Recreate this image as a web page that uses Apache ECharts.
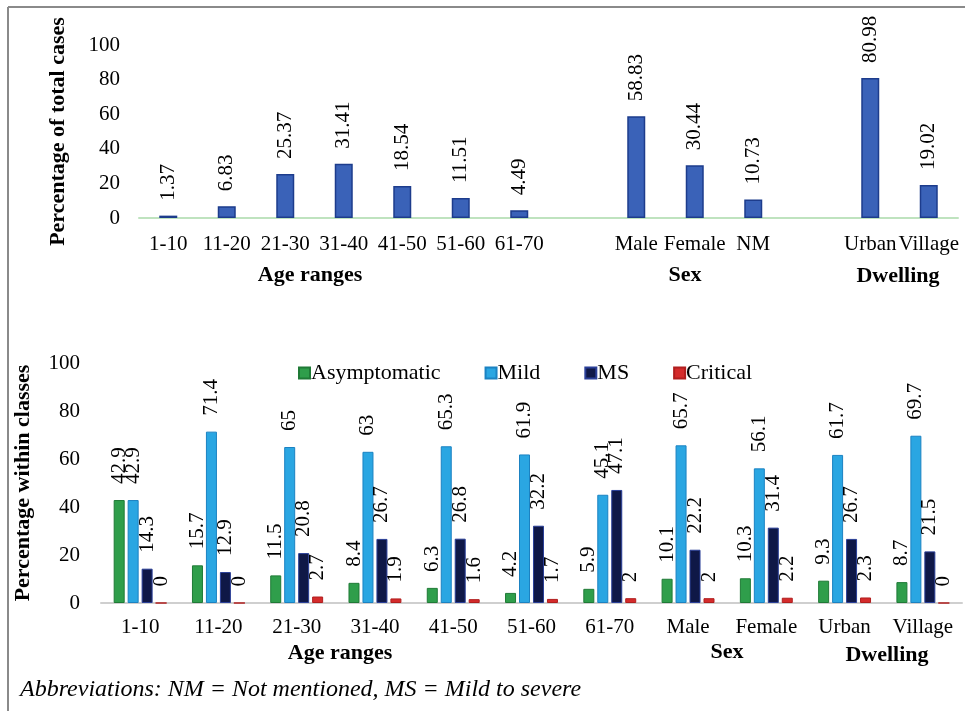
<!DOCTYPE html>
<html>
<head>
<meta charset="utf-8">
<script src="https://cdn.jsdelivr.net/npm/echarts@6/dist/echarts.min.js"></script>
<style>
    html, body { margin: 0; padding: 0; background: #fff; }
    #main { width: 965px; height: 711px; }
</style>
</head>
<body>
<div id="main"></div>
<script>
// upper panel: share of total cases ('' = spacer between groups)
var topCategories = ['1-10', '11-20', '21-30', '31-40', '41-50', '51-60', '61-70', '', 'Male', 'Female', 'NM', '', 'Urban', 'Village'];
var topValues = [1.37, 6.83, 25.37, 31.41, 18.54, 11.51, 4.49, '-', 58.83, 30.44, 10.73, '-', 80.98, 19.02];

// lower panel: severity within each class
var classCategories = ['1-10', '11-20', '21-30', '31-40', '41-50', '51-60', '61-70', 'Male', 'Female', 'Urban', 'Village'];
var asymptomatic = [42.9, 15.7, 11.5, 8.4, 6.3, 4.2, 5.9, 10.1, 10.3, 9.3, 8.7];
var mild = [42.9, 71.4, 65, 63, 65.3, 61.9, 45.1, 65.7, 56.1, 61.7, 69.7];
var ms = [14.3, 12.9, 20.8, 26.7, 26.8, 32.2, 47.1, 22.2, 31.4, 26.7, 21.5];
var critical = [0, 0, 2.7, 1.9, 1.6, 1.7, 2, 2, 2.2, 2.3, 0];

var yTicks = [0, 20, 40, 60, 80, 100];

var serif = 'Liberation Serif';

function barLabel(dist) {
    return {
        show: true,
        position: 'top',
        rotate: 90,
        align: 'left',
        verticalAlign: 'middle',
        distance: dist,
        color: '#000',
        fontFamily: serif,
        fontSize: 21
    };
}

function groupTitle(text, x, y) {
    return {
        type: 'text',
        x: x,
        y: y,
        style: {
            text: text,
            fill: '#000',
            font: 'bold 22px "Liberation Serif"',
            textAlign: 'center',
            textVerticalAlign: 'middle'
        }
    };
}

var myChart = echarts.init(document.getElementById('main'));
var option = {
    backgroundColor: '#fff',
    animation: false,
    textStyle: {
        fontFamily: serif
    },
    legend: {
        data: ['Asymptomatic', 'Mild', 'MS', 'Critical'],
        left: 293,
        top: 357,
        itemWidth: 11,
        itemHeight: 11,
        itemGap: 44,
        icon: 'rect',
        textStyle: {
            fontFamily: serif,
            fontSize: 22,
            color: '#000',
            padding: [0, 0, 0, -4]
        }
    },
    grid: [
        { left: 139, right: 7, top: 45, height: 173 },
        { left: 101, right: 3, top: 363, height: 240 }
    ],
    xAxis: [
        {
            type: 'category',
            gridIndex: 0,
            data: topCategories,
            axisLine: { lineStyle: { color: '#bfe3bf', width: 2 } },
            axisTick: { show: false },
            axisLabel: { interval: 0, margin: 16, color: '#000', fontFamily: serif, fontSize: 21 }
        },
        {
            type: 'category',
            gridIndex: 1,
            data: classCategories,
            axisLine: { lineStyle: { color: '#cfcfcf', width: 2 } },
            axisTick: { show: false },
            axisLabel: { interval: 0, margin: 14, color: '#000', fontFamily: serif, fontSize: 21 }
        }
    ],
    yAxis: [
        {
            type: 'value',
            gridIndex: 0,
            min: yTicks[0],
            max: yTicks[yTicks.length - 1],
            interval: 20,
            name: 'Percentage of total cases',
            nameLocation: 'middle',
            nameGap: 70,
            nameTextStyle: { fontFamily: serif, fontSize: 22, fontWeight: 'bold', color: '#000' },
            axisLine: { show: false },
            axisTick: { show: false },
            splitLine: { show: false },
            axisLabel: { margin: 19, color: '#000', fontFamily: serif, fontSize: 21 }
        },
        {
            type: 'value',
            gridIndex: 1,
            min: yTicks[0],
            max: yTicks[yTicks.length - 1],
            interval: 20,
            name: 'Percentage within classes',
            nameLocation: 'middle',
            nameGap: 67,
            nameTextStyle: { fontFamily: serif, fontSize: 22, fontWeight: 'bold', color: '#000' },
            axisLine: { show: false },
            axisTick: { show: false },
            splitLine: { show: false },
            axisLabel: { margin: 21, color: '#000', fontFamily: serif, fontSize: 21 }
        }
    ],
    series: [
        {
            name: 'Total',
            type: 'bar',
            xAxisIndex: 0,
            yAxisIndex: 0,
            data: topValues,
            barWidth: 18,
            itemStyle: { color: '#3a62b8', borderColor: '#1d3c8c', borderWidth: 1.5 },
            label: barLabel(15)
        },
        {
            name: 'Asymptomatic',
            type: 'bar',
            xAxisIndex: 1,
            yAxisIndex: 1,
            data: asymptomatic,
            barWidth: 11,
            barGap: '27%',
            itemStyle: { color: '#2f9e4b', borderColor: '#1f7a36', borderWidth: 1 },
            label: barLabel(16)
        },
        {
            name: 'Mild',
            type: 'bar',
            xAxisIndex: 1,
            yAxisIndex: 1,
            data: mild,
            barWidth: 11,
            barGap: '27%',
            itemStyle: { color: '#2aa6e2', borderColor: '#1b82c2', borderWidth: 1 },
            label: barLabel(16)
        },
        {
            name: 'MS',
            type: 'bar',
            xAxisIndex: 1,
            yAxisIndex: 1,
            data: ms,
            barWidth: 11,
            barGap: '27%',
            itemStyle: { color: '#0f1847', borderColor: '#2a3f98', borderWidth: 1 },
            label: barLabel(16)
        },
        {
            name: 'Critical',
            type: 'bar',
            xAxisIndex: 1,
            yAxisIndex: 1,
            data: critical,
            barWidth: 11,
            barGap: '27%',
            itemStyle: { color: '#d42b2b', borderColor: '#b01e1e', borderWidth: 1 },
            label: barLabel(16)
        }
    ],
    graphic: [
        // frame of the figure
        { type: 'line', shape: { x1: 8, y1: 7, x2: 965, y2: 7 }, style: { stroke: '#8a8a8a', lineWidth: 2 } },
        { type: 'line', shape: { x1: 8, y1: 7, x2: 8, y2: 711 }, style: { stroke: '#8a8a8a', lineWidth: 2 } },
        groupTitle('Age ranges', 310, 275),
        groupTitle('Sex', 685, 275),
        groupTitle('Dwelling', 898, 276),
        groupTitle('Age ranges', 340, 653),
        groupTitle('Sex', 727, 652),
        groupTitle('Dwelling', 887, 655),
        {
            type: 'text',
            x: 20,
            y: 690,
            style: {
                text: 'Abbreviations: NM = Not mentioned, MS = Mild to severe',
                fill: '#000',
                font: 'italic 24px "Liberation Serif"',
                textVerticalAlign: 'middle'
            }
        }
    ]
};
myChart.setOption(option);
</script>
</body>
</html>
